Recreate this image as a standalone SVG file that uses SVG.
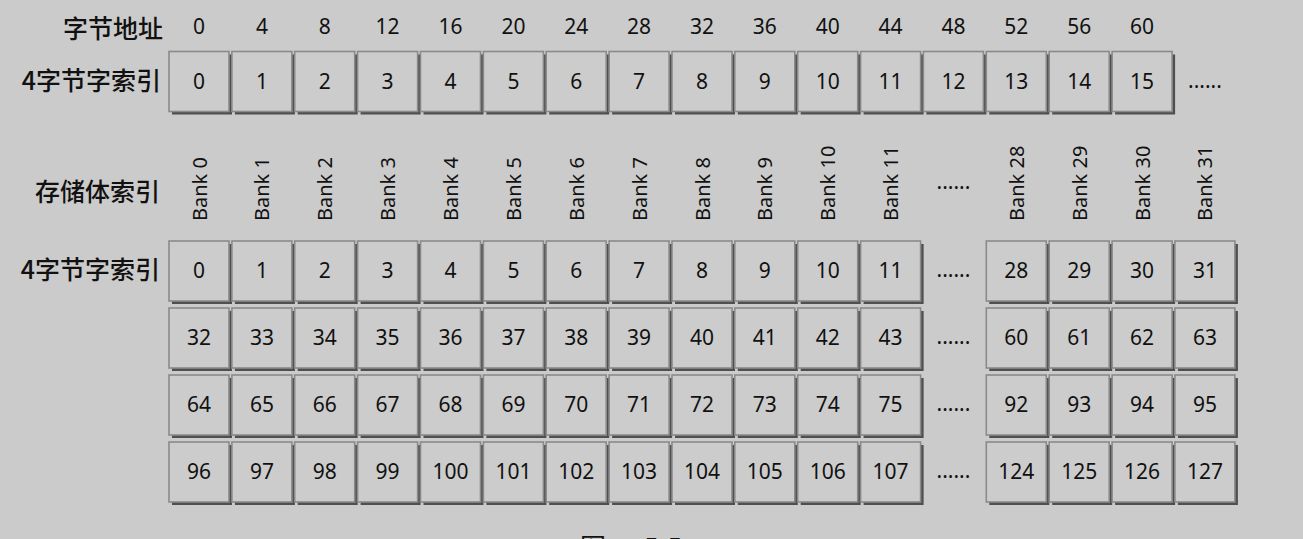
<svg xmlns="http://www.w3.org/2000/svg" xmlns:xlink="http://www.w3.org/1999/xlink" width="1303" height="539" viewBox="0 0 1303 539">
<style>
text{font-family:"Noto Sans","Noto Sans CJK SC",sans-serif;fill:#111;}
.lbl{font-size:25px;font-weight:500;text-anchor:end;font-family:"Noto Sans CJK SC","Noto Sans",sans-serif;}
.addr text{font-size:21px;text-anchor:middle;}
.v{font-size:21px;text-anchor:middle;}
.bk{font-size:20px;text-anchor:start;}
.sh{fill:#4f4f4f;}
.bf{fill:#cccccc;stroke:#8a8a8a;stroke-width:1.6;}
.cap{font-size:26px;font-family:"Noto Sans CJK SC","Noto Sans",sans-serif;}
</style>
<defs>
<g id="box"><rect class="sh" x="3" y="3" width="60" height="60"/><rect class="bf" x="0" y="0" width="60" height="60"/></g>
</defs>
<rect width="1303" height="539" fill="#cbcbcb"/>
<g id="labels">
<text class="lbl" x="163" y="38">字节地址</text>
<text class="lbl" x="161" y="90">4字节字索引</text>
<text class="lbl" x="160" y="201">存储体索引</text>
<text class="lbl" x="160" y="279">4字节字索引</text>
</g>
<g id="addresses" class="addr" font-size="21">
<text x="199" y="34">0</text>
<text x="261.9" y="34">4</text>
<text x="324.7" y="34">8</text>
<text x="387.6" y="34">12</text>
<text x="450.5" y="34">16</text>
<text x="513.4" y="34">20</text>
<text x="576.2" y="34">24</text>
<text x="639.1" y="34">28</text>
<text x="702" y="34">32</text>
<text x="764.8" y="34">36</text>
<text x="827.7" y="34">40</text>
<text x="890.6" y="34">44</text>
<text x="953.4" y="34">48</text>
<text x="1016.3" y="34">52</text>
<text x="1079.2" y="34">56</text>
<text x="1142.1" y="34">60</text>
</g>
<g id="word-row">
<g id="a0"><use href="#box" x="169" y="51.5"/><text class="v" x="199" y="89">0</text></g>
<g id="a1"><use href="#box" x="231.9" y="51.5"/><text class="v" x="261.9" y="89">1</text></g>
<g id="a2"><use href="#box" x="294.7" y="51.5"/><text class="v" x="324.7" y="89">2</text></g>
<g id="a3"><use href="#box" x="357.6" y="51.5"/><text class="v" x="387.6" y="89">3</text></g>
<g id="a4"><use href="#box" x="420.5" y="51.5"/><text class="v" x="450.5" y="89">4</text></g>
<g id="a5"><use href="#box" x="483.4" y="51.5"/><text class="v" x="513.4" y="89">5</text></g>
<g id="a6"><use href="#box" x="546.2" y="51.5"/><text class="v" x="576.2" y="89">6</text></g>
<g id="a7"><use href="#box" x="609.1" y="51.5"/><text class="v" x="639.1" y="89">7</text></g>
<g id="a8"><use href="#box" x="672" y="51.5"/><text class="v" x="702" y="89">8</text></g>
<g id="a9"><use href="#box" x="734.8" y="51.5"/><text class="v" x="764.8" y="89">9</text></g>
<g id="a10"><use href="#box" x="797.7" y="51.5"/><text class="v" x="827.7" y="89">10</text></g>
<g id="a11"><use href="#box" x="860.6" y="51.5"/><text class="v" x="890.6" y="89">11</text></g>
<g id="a12"><use href="#box" x="923.4" y="51.5"/><text class="v" x="953.4" y="89">12</text></g>
<g id="a13"><use href="#box" x="986.3" y="51.5"/><text class="v" x="1016.3" y="89">13</text></g>
<g id="a14"><use href="#box" x="1049.2" y="51.5"/><text class="v" x="1079.2" y="89">14</text></g>
<g id="a15"><use href="#box" x="1112.1" y="51.5"/><text class="v" x="1142.1" y="89">15</text></g>
<text class="v" x="1204.9" y="88">......</text>
</g>
<g id="banks">
<text class="bk" transform="translate(206.5,221) rotate(-90)">Bank 0</text>
<text class="bk" transform="translate(269.4,221) rotate(-90)">Bank 1</text>
<text class="bk" transform="translate(332.2,221) rotate(-90)">Bank 2</text>
<text class="bk" transform="translate(395.1,221) rotate(-90)">Bank 3</text>
<text class="bk" transform="translate(458,221) rotate(-90)">Bank 4</text>
<text class="bk" transform="translate(520.9,221) rotate(-90)">Bank 5</text>
<text class="bk" transform="translate(583.7,221) rotate(-90)">Bank 6</text>
<text class="bk" transform="translate(646.6,221) rotate(-90)">Bank 7</text>
<text class="bk" transform="translate(709.5,221) rotate(-90)">Bank 8</text>
<text class="bk" transform="translate(772.3,221) rotate(-90)">Bank 9</text>
<text class="bk" transform="translate(835.2,221) rotate(-90)">Bank 10</text>
<text class="bk" transform="translate(898.1,221) rotate(-90)">Bank 11</text>
<text class="v" x="953.4" y="189">......</text>
<text class="bk" transform="translate(1023.8,221) rotate(-90)">Bank 28</text>
<text class="bk" transform="translate(1086.7,221) rotate(-90)">Bank 29</text>
<text class="bk" transform="translate(1149.6,221) rotate(-90)">Bank 30</text>
<text class="bk" transform="translate(1212.4,221) rotate(-90)">Bank 31</text>
</g>
<g id="grid">
<g id="b0"><use href="#box" x="169" y="241"/><text class="v" x="199" y="278">0</text></g>
<g id="b1"><use href="#box" x="231.9" y="241"/><text class="v" x="261.9" y="278">1</text></g>
<g id="b2"><use href="#box" x="294.7" y="241"/><text class="v" x="324.7" y="278">2</text></g>
<g id="b3"><use href="#box" x="357.6" y="241"/><text class="v" x="387.6" y="278">3</text></g>
<g id="b4"><use href="#box" x="420.5" y="241"/><text class="v" x="450.5" y="278">4</text></g>
<g id="b5"><use href="#box" x="483.4" y="241"/><text class="v" x="513.4" y="278">5</text></g>
<g id="b6"><use href="#box" x="546.2" y="241"/><text class="v" x="576.2" y="278">6</text></g>
<g id="b7"><use href="#box" x="609.1" y="241"/><text class="v" x="639.1" y="278">7</text></g>
<g id="b8"><use href="#box" x="672" y="241"/><text class="v" x="702" y="278">8</text></g>
<g id="b9"><use href="#box" x="734.8" y="241"/><text class="v" x="764.8" y="278">9</text></g>
<g id="b10"><use href="#box" x="797.7" y="241"/><text class="v" x="827.7" y="278">10</text></g>
<g id="b11"><use href="#box" x="860.6" y="241"/><text class="v" x="890.6" y="278">11</text></g>
<text class="v" x="953.4" y="277">......</text>
<g id="b28"><use href="#box" x="986.3" y="241"/><text class="v" x="1016.3" y="278">28</text></g>
<g id="b29"><use href="#box" x="1049.2" y="241"/><text class="v" x="1079.2" y="278">29</text></g>
<g id="b30"><use href="#box" x="1112.1" y="241"/><text class="v" x="1142.1" y="278">30</text></g>
<g id="b31"><use href="#box" x="1174.9" y="241"/><text class="v" x="1204.9" y="278">31</text></g>

<g id="b32"><use href="#box" x="169" y="308"/><text class="v" x="199" y="345">32</text></g>
<g id="b33"><use href="#box" x="231.9" y="308"/><text class="v" x="261.9" y="345">33</text></g>
<g id="b34"><use href="#box" x="294.7" y="308"/><text class="v" x="324.7" y="345">34</text></g>
<g id="b35"><use href="#box" x="357.6" y="308"/><text class="v" x="387.6" y="345">35</text></g>
<g id="b36"><use href="#box" x="420.5" y="308"/><text class="v" x="450.5" y="345">36</text></g>
<g id="b37"><use href="#box" x="483.4" y="308"/><text class="v" x="513.4" y="345">37</text></g>
<g id="b38"><use href="#box" x="546.2" y="308"/><text class="v" x="576.2" y="345">38</text></g>
<g id="b39"><use href="#box" x="609.1" y="308"/><text class="v" x="639.1" y="345">39</text></g>
<g id="b40"><use href="#box" x="672" y="308"/><text class="v" x="702" y="345">40</text></g>
<g id="b41"><use href="#box" x="734.8" y="308"/><text class="v" x="764.8" y="345">41</text></g>
<g id="b42"><use href="#box" x="797.7" y="308"/><text class="v" x="827.7" y="345">42</text></g>
<g id="b43"><use href="#box" x="860.6" y="308"/><text class="v" x="890.6" y="345">43</text></g>
<text class="v" x="953.4" y="344">......</text>
<g id="b60"><use href="#box" x="986.3" y="308"/><text class="v" x="1016.3" y="345">60</text></g>
<g id="b61"><use href="#box" x="1049.2" y="308"/><text class="v" x="1079.2" y="345">61</text></g>
<g id="b62"><use href="#box" x="1112.1" y="308"/><text class="v" x="1142.1" y="345">62</text></g>
<g id="b63"><use href="#box" x="1174.9" y="308"/><text class="v" x="1204.9" y="345">63</text></g>

<g id="b64"><use href="#box" x="169" y="375"/><text class="v" x="199" y="412">64</text></g>
<g id="b65"><use href="#box" x="231.9" y="375"/><text class="v" x="261.9" y="412">65</text></g>
<g id="b66"><use href="#box" x="294.7" y="375"/><text class="v" x="324.7" y="412">66</text></g>
<g id="b67"><use href="#box" x="357.6" y="375"/><text class="v" x="387.6" y="412">67</text></g>
<g id="b68"><use href="#box" x="420.5" y="375"/><text class="v" x="450.5" y="412">68</text></g>
<g id="b69"><use href="#box" x="483.4" y="375"/><text class="v" x="513.4" y="412">69</text></g>
<g id="b70"><use href="#box" x="546.2" y="375"/><text class="v" x="576.2" y="412">70</text></g>
<g id="b71"><use href="#box" x="609.1" y="375"/><text class="v" x="639.1" y="412">71</text></g>
<g id="b72"><use href="#box" x="672" y="375"/><text class="v" x="702" y="412">72</text></g>
<g id="b73"><use href="#box" x="734.8" y="375"/><text class="v" x="764.8" y="412">73</text></g>
<g id="b74"><use href="#box" x="797.7" y="375"/><text class="v" x="827.7" y="412">74</text></g>
<g id="b75"><use href="#box" x="860.6" y="375"/><text class="v" x="890.6" y="412">75</text></g>
<text class="v" x="953.4" y="411">......</text>
<g id="b92"><use href="#box" x="986.3" y="375"/><text class="v" x="1016.3" y="412">92</text></g>
<g id="b93"><use href="#box" x="1049.2" y="375"/><text class="v" x="1079.2" y="412">93</text></g>
<g id="b94"><use href="#box" x="1112.1" y="375"/><text class="v" x="1142.1" y="412">94</text></g>
<g id="b95"><use href="#box" x="1174.9" y="375"/><text class="v" x="1204.9" y="412">95</text></g>

<g id="b96"><use href="#box" x="169" y="442"/><text class="v" x="199" y="479">96</text></g>
<g id="b97"><use href="#box" x="231.9" y="442"/><text class="v" x="261.9" y="479">97</text></g>
<g id="b98"><use href="#box" x="294.7" y="442"/><text class="v" x="324.7" y="479">98</text></g>
<g id="b99"><use href="#box" x="357.6" y="442"/><text class="v" x="387.6" y="479">99</text></g>
<g id="b100"><use href="#box" x="420.5" y="442"/><text class="v" x="450.5" y="479">100</text></g>
<g id="b101"><use href="#box" x="483.4" y="442"/><text class="v" x="513.4" y="479">101</text></g>
<g id="b102"><use href="#box" x="546.2" y="442"/><text class="v" x="576.2" y="479">102</text></g>
<g id="b103"><use href="#box" x="609.1" y="442"/><text class="v" x="639.1" y="479">103</text></g>
<g id="b104"><use href="#box" x="672" y="442"/><text class="v" x="702" y="479">104</text></g>
<g id="b105"><use href="#box" x="734.8" y="442"/><text class="v" x="764.8" y="479">105</text></g>
<g id="b106"><use href="#box" x="797.7" y="442"/><text class="v" x="827.7" y="479">106</text></g>
<g id="b107"><use href="#box" x="860.6" y="442"/><text class="v" x="890.6" y="479">107</text></g>
<text class="v" x="953.4" y="478">......</text>
<g id="b124"><use href="#box" x="986.3" y="442"/><text class="v" x="1016.3" y="479">124</text></g>
<g id="b125"><use href="#box" x="1049.2" y="442"/><text class="v" x="1079.2" y="479">125</text></g>
<g id="b126"><use href="#box" x="1112.1" y="442"/><text class="v" x="1142.1" y="479">126</text></g>
<g id="b127"><use href="#box" x="1174.9" y="442"/><text class="v" x="1204.9" y="479">127</text></g>
</g>
<g id="connectors"/>
<text class="cap" x="580" y="557">图<tspan x="644">5-5</tspan></text>
</svg>
